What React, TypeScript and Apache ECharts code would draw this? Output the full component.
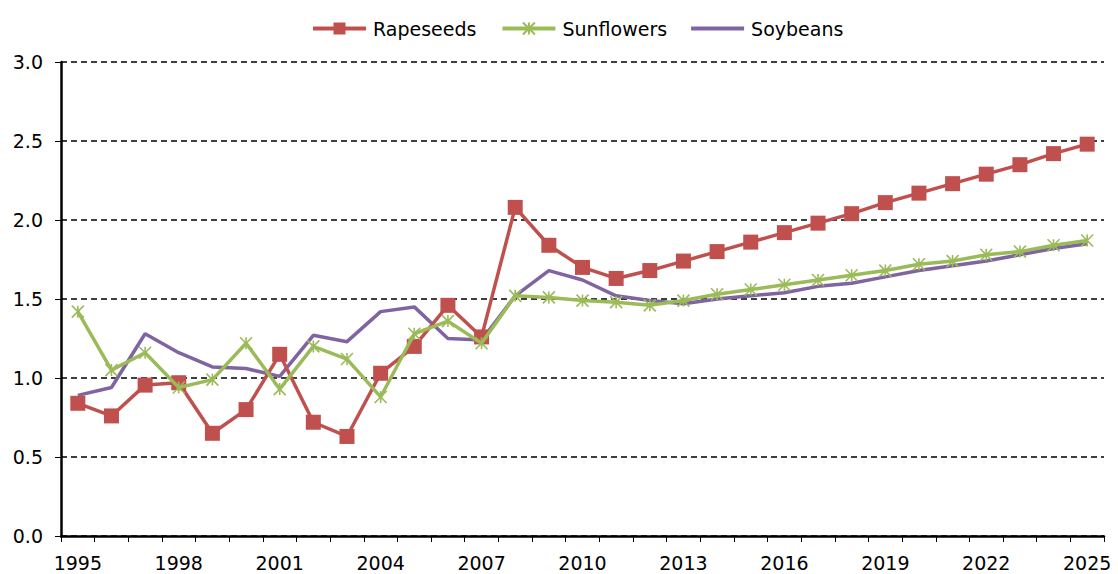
import React, { useEffect, useRef } from "react";
import * as echarts from "echarts";

const years: string[] = [];
for (let y = 1995; y <= 2025; y++) years.push(String(y));

const rapeseeds = [0.84, 0.76, 0.955, 0.97, 0.65, 0.8, 1.15, 0.72, 0.63, 1.03, 1.2, 1.46, 1.26, 2.08, 1.84, 1.7, 1.63, 1.68, 1.74, 1.8, 1.86, 1.92, 1.98, 2.04, 2.11, 2.17, 2.23, 2.29, 2.35, 2.42, 2.48];
const sunflowers = [1.42, 1.05, 1.16, 0.94, 0.99, 1.22, 0.93, 1.2, 1.12, 0.88, 1.28, 1.36, 1.22, 1.52, 1.51, 1.49, 1.48, 1.46, 1.49, 1.53, 1.56, 1.59, 1.62, 1.65, 1.68, 1.72, 1.74, 1.78, 1.8, 1.84, 1.87];
const soybeans = [0.89, 0.94, 1.28, 1.16, 1.07, 1.06, 1.01, 1.27, 1.23, 1.42, 1.45, 1.25, 1.24, 1.52, 1.68, 1.62, 1.52, 1.49, 1.47, 1.5, 1.52, 1.54, 1.58, 1.6, 1.64, 1.68, 1.71, 1.74, 1.78, 1.82, 1.85];
const yTicks = [0, 0.5, 1.0, 1.5, 2.0, 2.5, 3.0];

const RED = "#C0504D";
const GREEN = "#9BBB59";
const PURPLE = "#8064A2";
const FONT = "DejaVu Sans, sans-serif";
const ASTERISK = "path://M0,0L10,10M10,0L0,10M5,0L5,10";
const LINE_ICON = "path://M0,0L52,0L52,4L0,4Z";

export default function App() {
  const ref = useRef<HTMLDivElement>(null);
  useEffect(() => {
    if (!ref.current) return;
    const chart = echarts.init(ref.current, undefined, { renderer: "svg" });
    chart.setOption({
      animation: false,
      backgroundColor: "#ffffff",
      textStyle: { fontFamily: FONT },
      legend: {
        top: 14,
        left: 306,
        itemWidth: 53,
        itemHeight: 15,
        itemGap: 24,
        lineStyle: { width: 4 },
        textStyle: { fontSize: 19, color: "#000", fontFamily: FONT, padding: [0, 0, 0, 2] },
        data: [
          { name: "Rapeseeds" },
          { name: "Sunflowers" },
          { name: "Soybeans", icon: LINE_ICON },
        ],
      },
      grid: { left: 61, right: 14, top: 62, bottom: 38, containLabel: false },
      xAxis: {
        type: "category",
        data: years,
        boundaryGap: true,
        axisLine: { lineStyle: { color: "#000", width: 2.5 } },
        axisTick: { show: true, interval: 0, length: 6, lineStyle: { color: "#000", width: 1 } },
        axisLabel: { interval: 2, fontSize: 19, color: "#000", margin: 17, fontFamily: FONT },
        splitLine: { show: false },
      },
      yAxis: {
        type: "value",
        min: yTicks[0],
        max: yTicks[yTicks.length - 1],
        interval: 0.5,
        axisLine: { show: true, lineStyle: { color: "#000", width: 2.5 } },
        axisTick: { show: true, length: 6, lineStyle: { color: "#000", width: 1 } },
        axisLabel: {
          fontSize: 19,
          color: "#000",
          margin: 18,
          fontFamily: FONT,
          formatter: (v: number) => v.toFixed(1),
        },
        splitLine: { show: true, lineStyle: { color: "#000", type: [6, 4], width: 1.5 } },
      },
      series: [
        {
          name: "Rapeseeds",
          type: "line",
          data: rapeseeds,
          symbol: "rect",
          symbolSize: 15,
          showAllSymbol: true,
          lineStyle: { color: RED, width: 3.5 },
          itemStyle: { color: RED },
          z: 3,
        },
        {
          name: "Sunflowers",
          type: "line",
          data: sunflowers,
          symbol: ASTERISK,
          symbolSize: 12,
          showAllSymbol: true,
          lineStyle: { color: GREEN, width: 3.5 },
          itemStyle: { color: GREEN, borderColor: GREEN, borderWidth: 1.6 },
          z: 4,
        },
        {
          name: "Soybeans",
          type: "line",
          data: soybeans,
          symbol: "none",
          showSymbol: false,
          lineStyle: { color: PURPLE, width: 3.5 },
          itemStyle: { color: PURPLE },
          z: 2,
        },
      ],
    });
    return () => chart.dispose();
  }, []);
  return (
    <div
      ref={ref}
      style={{ position: "absolute", left: 0, top: 0, width: 1118, height: 574 }}
    />
  );
}
